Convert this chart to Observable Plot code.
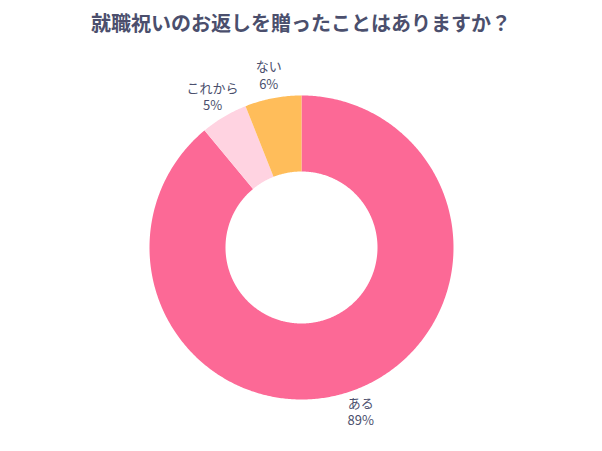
<!DOCTYPE html>
<html><head><meta charset="utf-8">
<script src="https://cdn.jsdelivr.net/npm/d3@7"></script>
<script src="https://cdn.jsdelivr.net/npm/@observablehq/plot@0.6"></script>
<style>
body{margin:0;background:#fff;font-family:"Noto Sans CJK JP","Noto Sans",sans-serif;}
#title{height:45px;line-height:45px;text-align:center;font-size:20px;font-weight:bold;color:#4b4f6d;}
</style></head><body>
<div id="title">就職祝いのお返しを贈ったことはありますか？</div>
<div id="chart"></div>
<script>
const categories = ["ある", "これから", "ない"];
const values = [89, 5, 6];
const colors = ["#FC6996", "#FFD3E1", "#FFBD5A"];

const R = 152, W = 602, H = 406, CY = 202;
const innerR = 0.5, labelR = 1.15;
const arcs = d3.pie().sort(null).value(d => d)(values);
const rows = [];
const labels = [];
arcs.forEach((a, i) => {
  const n = Math.max(8, Math.ceil((a.endAngle - a.startAngle) / 0.01));
  for (let k = 0; k <= n; k++) {
    const t = a.startAngle + (a.endAngle - a.startAngle) * k / n;
    rows.push({cat: categories[i], x: Math.sin(t), y: Math.cos(t)});
  }
  for (let k = n; k >= 0; k--) {
    const t = a.startAngle + (a.endAngle - a.startAngle) * k / n;
    rows.push({cat: categories[i], x: innerR * Math.sin(t), y: innerR * Math.cos(t)});
  }
  const m = (a.startAngle + a.endAngle) / 2;
  labels.push({x: labelR * Math.sin(m), y: labelR * Math.cos(m), name: categories[i], pct: values[i] + "%"});
});

const chart = Plot.plot({
  width: W, height: H, margin: 0,
  x: {domain: [-(W / 2) / R, (W / 2) / R], axis: null},
  y: {domain: [-(H - CY) / R, CY / R], axis: null},
  color: {domain: categories, range: colors},
  style: {fontFamily: '"Noto Sans CJK JP","Noto Sans",sans-serif', background: "#fff"},
  marks: [
    Plot.line(rows, {x: "x", y: "y", z: "cat", fill: "cat", stroke: "none"}),
    Plot.text(labels, {x: "x", y: "y", text: "name", dy: -8.5, fontSize: 13, fill: "#4b4f6d"}),
    Plot.text(labels, {x: "x", y: "y", text: "pct", dy: 9, fontSize: 13, fill: "#4b4f6d"})
  ]
});
document.getElementById("chart").appendChild(chart);
</script>
</body></html>
